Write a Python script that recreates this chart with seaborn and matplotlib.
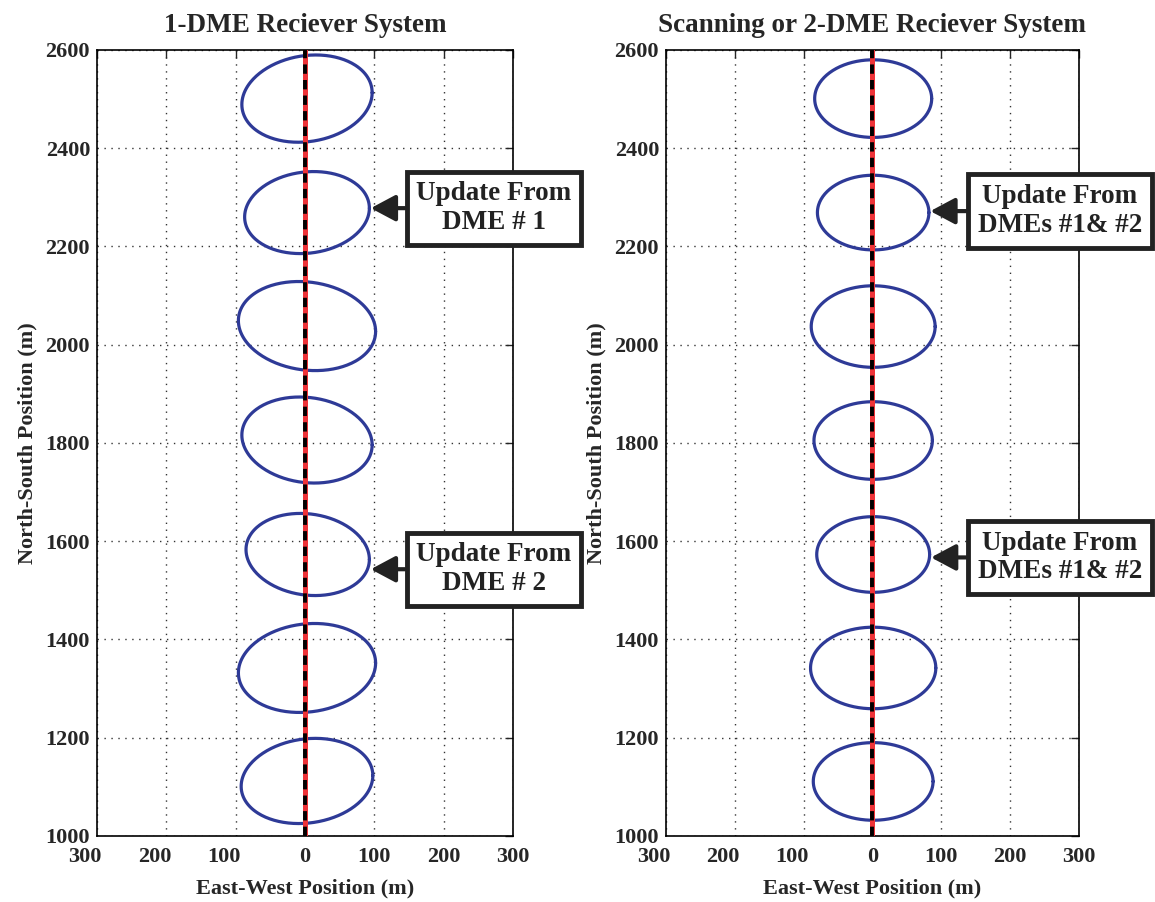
import numpy as np
import pandas as pd
import matplotlib
matplotlib.use("Agg")
import matplotlib.pyplot as plt
import matplotlib.transforms as mtransforms
import seaborn as sns

# error ellipses (metres)
north_1 = [2501, 2269, 2038, 1806, 1573, 1342, 1112]
east_1 = [3, 3, 3, 3, 4, 3, 3]
semi_e_1 = [94, 90, 99, 94, 89, 99, 95]
semi_n_1 = [88, 83, 90, 87, 83, 90, 86]
tilt_1 = [12, 9, -11, -10, -10, 10, 11]

north_2 = [2501, 2269, 2037, 1805, 1573, 1342, 1111]
east_2 = [1, 1, 1, 1, 1, 1, 1]
semi_e_2 = [85, 81, 90, 86, 82, 91, 87]
semi_n_2 = [79, 76, 83, 79, 77, 83, 79]
tilt_2 = [0, 0, 0, 0, 0, 0, 0]

# true track
track_east = [0, 0]
track_north = [1000, 2600]

xticks = [-300, -200, -100, 0, 100, 200, 300]
xtick_labels = ["300", "200", "100", "0", "100", "200", "300"]
yticks = [1000, 1200, 1400, 1600, 1800, 2000, 2200, 2400, 2600]

titles = ["1-DME Reciever System", "Scanning or 2-DME Reciever System"]
notes_1 = ["Update From\nDME # 1", "Update From\nDME # 2"]
notes_2 = ["Update From\nDMEs #1& #2", "Update From\nDMEs #1& #2"]
note_north_1 = [2278, 1543]
note_north_2 = [2272, 1567]

sns.set_style("white")
plt.rcParams["font.family"] = ["Liberation Serif", "DejaVu Serif"]
plt.rcParams["font.weight"] = "bold"

BLUE = "#2e3a97"
RED = "#ee3338"
INK = "#222222"


def ellipse_frame(north, east, se, sn, tilt):
    t = np.linspace(0, 2 * np.pi, 241)
    rows = []
    for i in range(len(north)):
        x = east[i] + se[i] * np.cos(t)
        y = north[i] + sn[i] * np.sin(t) + tilt[i] * np.cos(t)
        rows.append(pd.DataFrame({"east": x, "north": y, "id": i}))
    return pd.concat(rows, ignore_index=True)


fig = plt.figure(figsize=(11.55, 9.02), dpi=100)
ax1 = fig.add_axes([0.084, 0.0732, 0.360, 0.8714])
ax2 = fig.add_axes([0.5766, 0.0732, 0.3576, 0.8714])

panels = [
    (ax1, ellipse_frame(north_1, east_1, semi_e_1, semi_n_1, tilt_1), notes_1,
     note_north_1, east_1, semi_e_1, 273),
    (ax2, ellipse_frame(north_2, east_2, semi_e_2, semi_n_2, tilt_2), notes_2,
     note_north_2, east_2, semi_e_2, 272),
]
note_idx = [1, 4]

for k, (ax, df, notes, note_n, east, se, text_x) in enumerate(panels):
    sns.lineplot(data=df, x="east", y="north", units="id", estimator=None,
                 sort=False, color=BLUE, lw=2.3, ax=ax)
    ax.plot(track_east, track_north, color=RED, lw=3.6, zorder=3)
    ax.plot(track_east, track_north, color="black", lw=2.8,
            dashes=(2.4, 1.6), zorder=4)

    ax.set_xlim(-300, 300)
    ax.set_ylim(1000, 2600)
    ax.set_xticks(xticks)
    ax.set_xticklabels(xtick_labels)
    ax.set_yticks(yticks)
    ax.grid(True, color="#333333", linestyle=(0, (1, 4)), lw=1.0)
    ax.tick_params(direction="in", length=6, width=1.0, top=True, right=True,
                   labelsize=16)
    ax.tick_params(axis="x", pad=8)
    ax.tick_params(axis="y", pad=5)
    for lbl in ax.get_xticklabels() + ax.get_yticklabels():
        lbl.set_fontweight("bold")
    # left-side labels sit a bit left of their ticks in the original
    shift = mtransforms.ScaledTranslation(-12 / 100, 0, fig.dpi_scale_trans)
    for lbl in ax.get_xticklabels()[:3]:
        lbl.set_transform(lbl.get_transform() + shift)
    for sp in ax.spines.values():
        sp.set_linewidth(1.2)
        sp.set_color("black")

    ax.set_title(titles[k], fontsize=19.5, fontweight="bold", pad=13)
    ax.set_xlabel("East-West Position (m)", fontsize=16, fontweight="bold",
                  labelpad=8)
    ax.set_ylabel("North-South Position (m)", fontsize=16, fontweight="bold",
                  labelpad=6)

    for j, idx in enumerate(note_idx):
        ax.annotate(notes[j], xy=(east[idx] + se[idx] + 2, note_n[j]),
                    xytext=(text_x, note_n[j]), textcoords="data",
                    ha="center", va="center", fontsize=19.5, fontweight="bold",
                    color=INK, linespacing=1.2, annotation_clip=False, zorder=6,
                    bbox=dict(boxstyle="square,pad=0.36", fc="white",
                              ec=INK, lw=3.5),
                    arrowprops=dict(arrowstyle="-|>,head_length=0.75,head_width=0.4",
                                    color=INK, lw=3, mutation_scale=20,
                                    shrinkA=0, shrinkB=0))

fig.savefig("out.png", dpi=100)
